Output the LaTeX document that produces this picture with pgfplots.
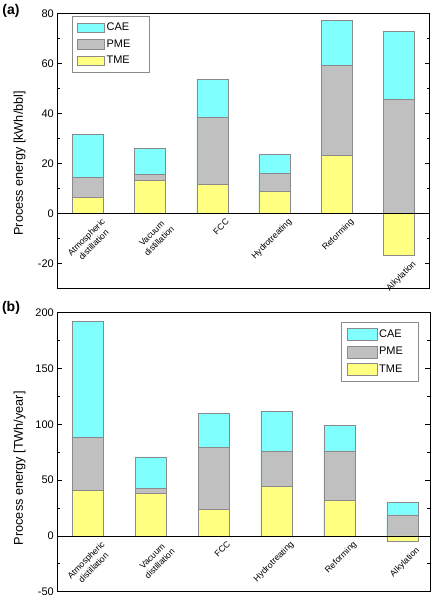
\documentclass[border=0pt]{standalone}
\usepackage{fontspec}
\setmainfont{Liberation Sans}
\usepackage{pgfplots}
\pgfplotsset{compat=1.18}
\definecolor{cae}{HTML}{80FFFF}
\definecolor{pme}{HTML}{C0C0C0}
\definecolor{tme}{HTML}{FFFF80}
\definecolor{edge}{HTML}{8A8A8A}

\pgfplotsset{
  common/.style={
    scale only axis,
    clip=false,
    ybar, bar width=31pt, bar shift=0pt,
    xtick=\empty,
    axis line style={line width=0.8pt},
    tick style={black, line width=0.6pt},
    tick align=inside,
    major tick length=5pt, minor tick length=3pt,
    minor y tick num=1,
    /pgf/number format/assume math mode=true,
    yticklabel style={font=\fontsize{11}{13}\selectfont},
    ylabel style={font=\fontsize{12.7}{14}\selectfont, anchor=center},
    legend cell align=left,
  },
  barseg/.style={fill=#1, draw=edge, line width=0.6pt},
}
\newcommand\catlabel[3]{\node[rotate=45, anchor=north east, align=center, inner sep=0pt,
  font=\fontsize{8.7}{10.5}\selectfont] at ([xshift=13pt,yshift=-4.5pt]axis cs:#1,#2) {#3};}

\begin{document}
\begin{tikzpicture}
\path[use as bounding box] (0,0) rectangle (435pt,600pt);
\node[font=\bfseries\fontsize{14}{16}\selectfont, inner sep=0pt] at (11pt,589pt) {(a)};
\node[font=\bfseries\fontsize{14}{16}\selectfont, inner sep=0pt] at (11pt,292.5pt) {(b)};

% ---------------- panel (a)
\begin{axis}[common,
  at={(57.3pt,311.7pt)}, anchor=south west,
  width=372.2pt, height=275pt,
  xmin=0.506, xmax=6.494, ymin=-30, ymax=80,
  ytick={-20,0,20,40,60,80},
  ylabel={Process energy [kWh/bbl]},
  ylabel style={at={(axis description cs:-0.101,0.4545)}},
  legend style={at={(axis description cs:0.0387,0.991)}, anchor=north west,
    draw=edge, line width=0.6pt, font=\fontsize{11}{13}\selectfont,
    inner xsep=5pt, inner ysep=5pt, row sep=3.5pt},
]
\addplot[barseg=cae, legend image code/.code={\draw[fill=cae,draw=edge,line width=0.6pt] (0pt,-4.7pt) rectangle (27pt,4.7pt);}]
  coordinates {(1,31.7) (2,25.9) (3,53.5) (4,23.5) (5,77.1) (6,72.9)};
\addplot[barseg=pme, legend image code/.code={\draw[fill=pme,draw=edge,line width=0.6pt] (0pt,-4.7pt) rectangle (27pt,4.7pt);}]
  coordinates {(1,14.4) (2,15.7) (3,38.4) (4,16.0) (5,59.1) (6,45.6)};
\addplot[barseg=tme, legend image code/.code={\draw[fill=tme,draw=edge,line width=0.6pt] (0pt,-4.7pt) rectangle (27pt,4.7pt);}]
  coordinates {(1,6.3) (2,13.3) (3,11.6) (4,8.8) (5,23.2) (6,-16.9)};
\legend{CAE\hspace*{12pt},PME\hspace*{12pt},TME\hspace*{12pt}}
\draw[black, line width=0.7pt] (axis cs:0.506,0) -- (axis cs:6.494,0);
\catlabel{1}{0}{Atmospheric\\distillation}
\catlabel{2}{0}{Vacuum\\distillation}
\catlabel{3}{0}{FCC}
\catlabel{4}{0}{Hydrotreating}
\catlabel{5}{0}{Reforming}
\catlabel{6}{-16.9}{Alkylation}
\end{axis}

% ---------------- panel (b)
\begin{axis}[common,
  at={(57.3pt,8.3pt)}, anchor=south west,
  width=372.7pt, height=279pt,
  xmin=0.516, xmax=6.44, ymin=-50, ymax=200,
  ytick={-50,0,50,100,150,200},
  ylabel={Process energy [TWh/year]},
  ylabel style={at={(axis description cs:-0.101,0.4427)}},
  legend style={at={(axis description cs:0.9686,0.9656)}, anchor=north east,
    draw=edge, line width=0.6pt, font=\fontsize{11}{13}\selectfont,
    inner xsep=5pt, inner ysep=5pt, row sep=4.5pt},
]
\addplot[barseg=cae, legend image code/.code={\draw[fill=cae,draw=edge,line width=0.6pt] (0pt,-6pt) rectangle (30pt,6pt);}]
  coordinates {(1,192.3) (2,70.8) (3,110.1) (4,111.6) (5,99.1) (6,29.8)};
\addplot[barseg=pme, legend image code/.code={\draw[fill=pme,draw=edge,line width=0.6pt] (0pt,-6pt) rectangle (30pt,6pt);}]
  coordinates {(1,88.1) (2,42.9) (3,79.5) (4,75.6) (5,76.2) (6,18.75)};
\addplot[barseg=tme, legend image code/.code={\draw[fill=tme,draw=edge,line width=0.6pt] (0pt,-6pt) rectangle (30pt,6pt);}]
  coordinates {(1,41.1) (2,38.1) (3,23.5) (4,44.6) (5,31.5) (6,-5.1)};
\legend{CAE\hspace*{8pt},PME\hspace*{8pt},TME\hspace*{8pt}}
\draw[black, line width=0.7pt] (axis cs:0.516,0) -- (axis cs:6.44,0);
\catlabel{1}{0}{Atmospheric\\distillation}
\catlabel{2}{0}{Vacuum\\distillation}
\catlabel{3}{0}{FCC}
\catlabel{4}{0}{Hydrotreating}
\catlabel{5}{0}{Reforming}
\catlabel{6}{-5.1}{Alkylation}
\end{axis}
\end{tikzpicture}
\end{document}
